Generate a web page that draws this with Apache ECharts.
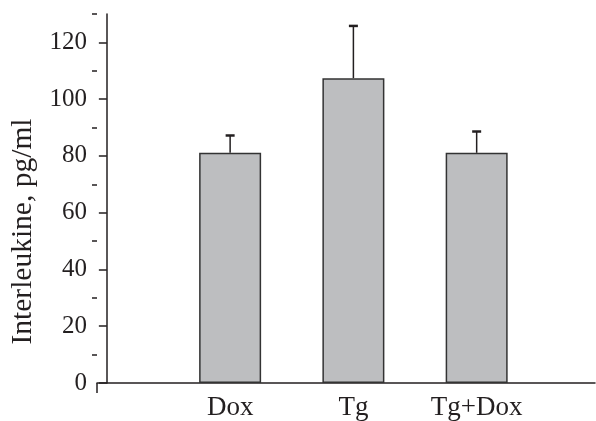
<!DOCTYPE html>
<html>
<head>
<meta charset="utf-8">
<script src="https://cdn.jsdelivr.net/npm/echarts@6/dist/echarts.min.js"></script>
<style>
  html, body { margin: 0; padding: 0; background: #fff; }
  #chart { width: 596px; height: 421px; }
</style>
</head>
<body>
<div id="chart"></div>
<script>
// Groups, mean interleukin levels and upper standard deviations (pg/ml)
const categories = ['Dox', 'Tg', 'Tg+Dox'];
const means = [81.1, 107.4, 81.1];
const errors = [6.1, 18.4, 7.5];
const majorTicks = [0, 20, 40, 60, 80, 100, 120];
const minorTicks = [10, 30, 50, 70, 90, 110, 130];

const serif = '"Liberation Serif", "Times New Roman", serif';
const ink = '#231f20';

// Group positions on the horizontal value axis: 1, 2, 3
const barData = means.map((v, i) => [i + 1, v]);
const errData = means.map((v, i) => [i + 1, v, v + errors[i]]);

const chart = echarts.init(document.getElementById('chart'), null, { renderer: 'canvas' });

chart.setOption({
  animation: false,
  backgroundColor: '#ffffff',
  grid: { left: 97, right: 1, top: 14, bottom: 33, containLabel: false },
  xAxis: {
    type: 'value',
    min: -0.08,
    max: 3.96,
    splitLine: { show: false },
    axisLine: { show: true, onZero: true, lineStyle: { color: ink, width: 1.5 } },
    axisTick: { show: true, customValues: [-0.08], length: 10, lineStyle: { color: ink, width: 1.5 } },
    axisLabel: {
      customValues: [1, 2, 3],
      formatter: v => categories[Math.round(v) - 1] || '',
      fontFamily: serif,
      fontSize: 27,
      color: ink,
      margin: 11
    }
  },
  yAxis: [
    {
      type: 'value',
      position: 'left',
      min: 0,
      max: 130,
      splitLine: { show: false },
      axisLine: { show: true, lineStyle: { color: ink, width: 1.5 } },
      axisTick: { show: true, customValues: majorTicks, length: 8, lineStyle: { color: ink, width: 1.5 } },
      axisLabel: {
        customValues: majorTicks,
        fontFamily: serif,
        fontSize: 25,
        color: ink,
        margin: 10
      },
      name: 'Interleukine, pg/ml',
      nameLocation: 'middle',
      nameGap: 59,
      nameTextStyle: { fontFamily: serif, fontSize: 29.5, color: ink, padding: [0, 66, 0, 0] }
    },
    {
      type: 'value',
      position: 'left',
      offset: 0,
      min: 0,
      max: 130,
      splitLine: { show: false },
      axisLine: { show: false },
      axisTick: { show: true, customValues: minorTicks, length: 5, lineStyle: { color: ink, width: 1.5 } },
      axisLabel: { show: false }
    }
  ],
  series: [
    {
      type: 'bar',
      data: barData,
      barWidth: 62,
      itemStyle: { color: '#bdbec0', borderColor: '#333333', borderWidth: 1.5 },
      z: 2
    },
    {
      type: 'custom',
      data: errData,
      z: 3,
      renderItem: (params, api) => {
        const x = api.value(0);
        const base = api.coord([x, api.value(1)]);
        const top = api.coord([x, api.value(2)]);
        const half = 4.5;
        return {
          type: 'group',
          children: [
            {
              type: 'line',
              shape: { x1: base[0], y1: base[1], x2: top[0], y2: top[1] },
              style: { stroke: ink, lineWidth: 1.5 }
            },
            {
              type: 'line',
              shape: { x1: top[0] - half, y1: top[1], x2: top[0] + half, y2: top[1] },
              style: { stroke: ink, lineWidth: 2.5 }
            }
          ]
        };
      }
    }
  ]
});
</script>
</body>
</html>
